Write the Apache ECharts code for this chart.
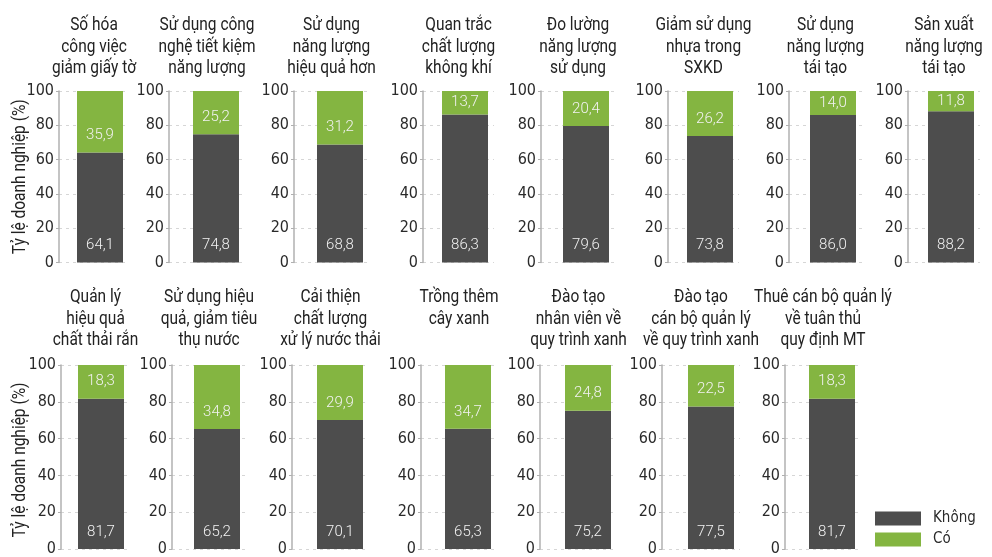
<!DOCTYPE html>
<html><head><meta charset="utf-8">
<script src="https://cdn.jsdelivr.net/npm/echarts@6/dist/echarts.min.js"></script>
<style>html,body{margin:0;padding:0;background:#fff}#c{width:992px;height:557px}</style>
</head><body><div id="c"></div>
<script>
// ---- data ----
const titles = [
  'Số hóa\ncông việc\ngiảm giấy tờ',
  'Sử dụng công\nnghệ tiết kiệm\nnăng lượng',
  'Sử dụng\nnăng lượng\nhiệu quả hơn',
  'Quan trắc\nchất lượng\nkhông khí',
  'Đo lường\nnăng lượng\nsử dụng',
  'Giảm sử dụng\nnhựa trong\nSXKD',
  'Sử dụng\nnăng lượng\ntái tạo',
  'Sản xuất\nnăng lượng\ntái tạo',
  'Quản lý\nhiệu quả\nchất thải rắn',
  'Sử dụng hiệu\nquả, giảm tiêu\nthụ nước',
  'Cải thiện\nchất lượng\nxử lý nước thải',
  'Trồng thêm\ncây xanh',
  'Đào tạo\nnhân viên về\nquy trình xanh',
  'Đào tạo\ncán bộ quản lý\nvề quy trình xanh',
  'Thuê cán bộ quản lý\nvề tuân thủ\nquy định MT'
];
const khong = [64.1, 74.8, 68.8, 86.3, 79.6, 73.8, 86.0, 88.2, 81.7, 65.2, 70.1, 65.3, 75.2, 77.5, 81.7];
const co    = [35.9, 25.2, 31.2, 13.7, 20.4, 26.2, 14.0, 11.8, 18.3, 34.8, 29.9, 34.7, 24.8, 22.5, 18.3];
const seriesNames = ['Không', 'Có'];
const yName = 'Tỷ lệ doanh nghiệp (%)';

// ---- layout ----
const axisX = [59, 169, 294, 423, 541, 668, 789, 908, 61, 172, 292, 421, 540, 662, 785];
const barX  = [77, 193, 317, 442, 563, 687, 810, 928, 78, 194, 317, 445, 565, 688, 809];
const rowTop = [91, 365], rowH = [171.5, 190], titleTop = [15, 287];
const BW = 46, RM = 6;
const FONT = "'DejaVu Sans Condensed','Liberation Sans Narrow',sans-serif";
const TITLE_FONT = "Roboto, 'Liberation Sans', sans-serif";
const LABEL_FONT = "Roboto, 'Liberation Sans', sans-serif";
const C_DARK = '#4d4d4d', C_GREEN = '#84b541';

const grid = [], xAxis = [], yAxis = [], series = [], graphic = [];
const fmt = v => v.toFixed(1).replace('.', ',');
titles.forEach((t, i) => {
  const row = i < 8 ? 0 : 1;
  const first = (i === 0 || i === 8);
  const d = barX[i] - axisX[i] - RM;
  const W = d + BW + 2 * RM;
  grid.push({left: axisX[i], top: rowTop[row], width: W, height: rowH[row]});
  xAxis.push({type: 'category', gridIndex: i, data: [t], show: false});
  yAxis.push({
    type: 'value', gridIndex: i, min: 0, max: 100, interval: 20,
    axisLine: {show: true, lineStyle: {color: '#b0b0b0', width: 1.5}},
    axisTick: {show: true, length: 3, lineStyle: {color: '#b0b0b0'}},
    axisLabel: {margin: 5, fontFamily: FONT, fontSize: 16, color: '#2a2a2a'},
    splitLine: {show: true, lineStyle: {color: '#d6d6d6', type: [3, 4], width: 1}}
  });
  const mkLabel = v => {
    const h = v / 100 * rowH[row];
    return h < 34
      ? {show: true, position: 'inside', formatter: () => fmt(v)}
      : {show: true, position: 'insideBottom', distance: 8, formatter: () => fmt(v)};
  };
  const lblStyle = {fontFamily: LABEL_FONT, fontSize: 15, fontWeight: 300, color: '#f2f2f2', lineHeight: 18};
  series.push({type: 'bar', xAxisIndex: i, yAxisIndex: i, stack: 'dummy' + i, barWidth: d, barGap: '0%', data: [null], silent: true});
  series.push({type: 'bar', name: seriesNames[0], xAxisIndex: i, yAxisIndex: i, stack: 's' + i, barWidth: BW, barGap: '0%',
    itemStyle: {color: C_DARK}, label: Object.assign(mkLabel(khong[i]), lblStyle), data: [khong[i]]});
  series.push({type: 'bar', name: seriesNames[1], xAxisIndex: i, yAxisIndex: i, stack: 's' + i, barWidth: BW, barGap: '0%',
    itemStyle: {color: C_GREEN}, label: Object.assign(mkLabel(co[i]), lblStyle), data: [co[i]]});
  graphic.push({type: 'text', x: axisX[i] + W / 2, y: titleTop[row], scaleX: 0.86,
    style: {text: t, textAlign: 'center', textVerticalAlign: 'top', fontFamily: TITLE_FONT, fontSize: 18, lineHeight: 21.5, fill: '#222'}});
  if (first) {
    graphic.push({type: 'text', x: 20, y: rowTop[row] + rowH[row] / 2, rotation: Math.PI / 2, scaleX: 0.86,
      style: {text: yName, textAlign: 'center', textVerticalAlign: 'middle', fontFamily: TITLE_FONT, fontSize: 18, fill: '#222'}});
  }
});

const chart = echarts.init(document.getElementById('c'), null, {renderer: 'canvas'});
chart.setOption({
  animation: false,
  grid, xAxis, yAxis, series, graphic,
  legend: {data: seriesNames, orient: 'vertical', left: 875, top: 511, itemWidth: 46, itemHeight: 14, itemGap: 6,
    icon: 'rect', padding: 0, textStyle: {fontFamily: FONT, fontSize: 15, color: '#2a2a2a', padding: [0, 0, 0, 7]}}
});
</script></body></html>
